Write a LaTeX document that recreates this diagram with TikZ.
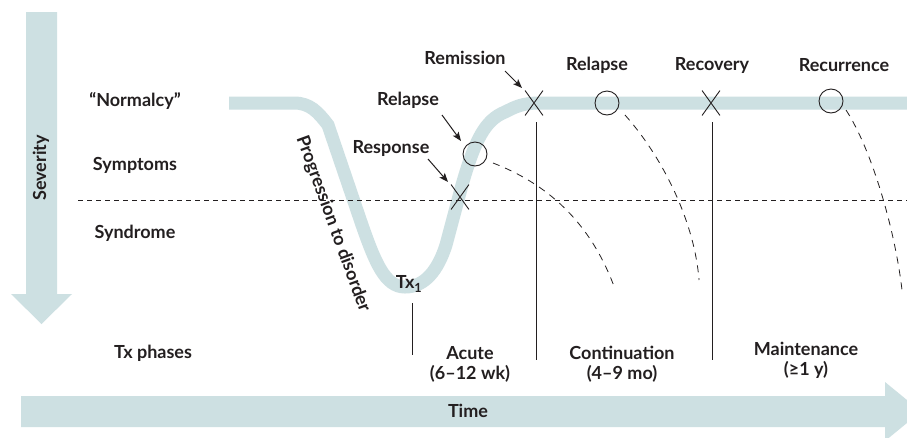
\documentclass[tikz,border=0pt]{standalone}
\usepackage{fontspec}
\setmainfont{Lato}
\usetikzlibrary{arrows.meta,shapes.misc}
\definecolor{bandc}{HTML}{CDE0E2}
\definecolor{ink}{HTML}{231F20}
\begin{document}
\begin{tikzpicture}[x=1pt,y=-1pt,
 lbl/.style={font=\fontsize{18}{20}\selectfont\bfseries, text=ink, inner sep=0pt, align=center},
 band/.style={draw=bandc, line width=13pt},
 xmark/.style={cross out, draw=ink, line width=0.9pt, minimum width=17pt, minimum height=24pt, inner sep=0pt},
 omark/.style={circle, draw=ink, line width=0.9pt, minimum size=24pt, inner sep=0pt},
 ptr/.style={draw=ink, line width=1pt, -{Stealth[length=9pt,width=7pt,inset=2pt]}},
 dashc/.style={draw=ink, line width=0.8pt, dash pattern=on 7pt off 6pt},
 vline/.style={draw=ink, line width=0.9pt},
]
\clip (0,0) rectangle (907,437);
\fill[white] (0,0) rectangle (907,437);
% axes arrows
\fill[bandc] (26,12) -- (57,12) -- (57,294) -- (72,294) -- (41.5,324) -- (11,294) -- (26,294) -- cycle;
\fill[bandc] (21,396) -- (885,396) -- (885,382) -- (921,411.5) -- (885,441) -- (885,427) -- (21,427) -- cycle;
\node[lbl, rotate=90] (sev) at (41,168) {Severity};
\node[lbl] (time) at (468,411) {Time};
% row labels
\node[lbl] (norm) at (135,101) {“Normalcy”};
\node[lbl] (symp) at (135,165) {Symptoms};
\node[lbl] (synd) at (135,233) {Syndrome};
\node[lbl] (txph) at (153,353) {Tx phases};
% course band
\draw[band] (229,103) -- (294,103) .. controls (310,103) and (318,112) .. (328,125) -- (362,225)
  .. controls (375,262) and (385,287) .. (405,287) .. controls (425,287) and (438,270) .. (446,245)
  -- (462,185) .. controls (475,140) and (485,120) .. (505,112) .. controls (515,107) and (522,103) .. (540,103) -- (910,103);
% threshold
\draw[dashc, line width=0.7pt, dash pattern=on 5pt off 4pt] (78,200) -- (907,200);
% phase lines
\coordinate (v0t) at (412,303); \coordinate (v0b) at (412,355);
\coordinate (v1t) at (536,122); \coordinate (v1b) at (536,360);
\coordinate (v2t) at (712,122); \coordinate (v2b) at (712,360);
\draw[vline] (v0t) -- (v0b);
\draw[vline] (v1t) -- (v1b);
\draw[vline] (v2t) -- (v2b);
% markers
\node[xmark] (resp) at (460,197) {};
\node[omark] (rel1) at (475,154) {};
\node[xmark] (remi) at (534,103) {};
\node[omark] (rel2) at (607,103) {};
\node[xmark] (reco) at (711,103) {};
\node[omark] (recu) at (831,101) {};
% dashed relapse courses
\coordinate (d1s) at (493,163); \coordinate (d1e) at (615,289);
\coordinate (d2s) at (625,115); \coordinate (d2e) at (699,280);
\coordinate (d3s) at (846,110); \coordinate (d3e) at (902,290);
\draw[dashc] (d1s) .. controls (545,183) and (590,220) .. (d1e);
\draw[dashc] (d2s) .. controls (665,160) and (695,225) .. (d2e);
\draw[dashc] (d3s) .. controls (872,150) and (895,230) .. (d3e);
% top labels
\node[lbl] (lremi) at (465,58) {Remission};
\node[lbl] (lrel1) at (408,100) {Relapse};
\node[lbl] (lresp) at (391,148) {Response};
\node[lbl] (lrel2) at (597,65) {Relapse};
\node[lbl] (lreco) at (712,65) {Recovery};
\node[lbl] (lrecu) at (844,65) {Recurrence};
% pointers
\coordinate (p1s) at (505,71); \coordinate (p1e) at (522,88);
\coordinate (p2s) at (442,115); \coordinate (p2e) at (461,141);
\coordinate (p3s) at (428,159); \coordinate (p3e) at (448,182);
\draw[ptr] (p1s) -- (p1e);
\draw[ptr] (p2s) -- (p2e);
\draw[ptr] (p3s) -- (p3e);
% other labels
\node[lbl, rotate=-70] (prog) at (333,224) {Progression to disorder};
\node[lbl] (tx1) at (409,284) {Tx\textsubscript{1}};
\node[lbl] (acute) at (470,364) {Acute\\(6–12 wk)};
\node[lbl] (cont) at (622,364) {Continuation\\(4–9 mo)};
\node[lbl] (maint) at (806,360) {Maintenance\\(≥1 y)};
\end{tikzpicture}
\end{document}
